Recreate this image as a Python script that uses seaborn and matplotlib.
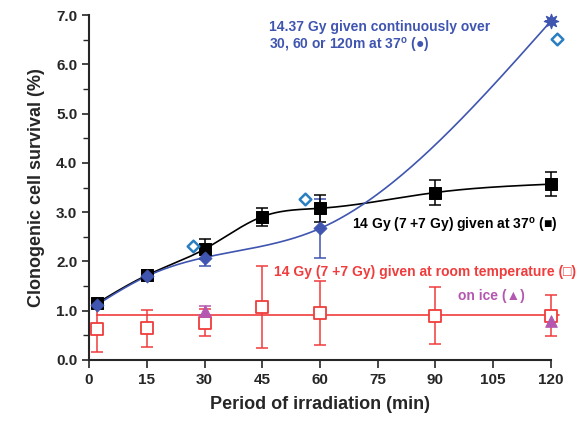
import numpy as np
import pandas as pd
import matplotlib
matplotlib.use("Agg")
import matplotlib.pyplot as plt
import seaborn as sns

# ---------------- data ----------------
t37 = [2, 15, 30, 45, 60, 90, 120]
surv37 = [1.15, 1.72, 2.25, 2.91, 3.08, 3.40, 3.57]
err37 = [0.07, 0.10, 0.20, 0.18, 0.27, 0.26, 0.25]

tcont = [2, 15, 30, 60, 120]
survcont = [1.12, 1.70, 2.08, 2.67, 6.88]
errcont = [0.05, 0.05, 0.18, 0.60, 0.0]

topen = [27, 56, 121.5]
survopen = [2.31, 3.26, 6.52]

troom = [2, 15, 30, 45, 60, 90, 120]
survroom = [0.62, 0.64, 0.76, 1.08, 0.95, 0.90, 0.90]
errroom = [0.45, 0.37, 0.27, 0.83, 0.65, 0.58, 0.41]
room_mean = 0.915

tice = [30, 120]
survice = [1.00, 0.79]
errice = [0.09, 0.0]

xticks = [0, 15, 30, 45, 60, 75, 90, 105, 120]
yticks = [0, 1, 2, 3, 4, 5, 6, 7]

BLUE = "#3f55b0"
LBLUE = "#2a7fc0"
RED = "#f03c3c"
PURPLE = "#b457b0"


def natural_spline(x, y, n=300):
    x = np.asarray(x, float)
    y = np.asarray(y, float)
    k = len(x)
    h = np.diff(x)
    A = np.zeros((k, k))
    b = np.zeros(k)
    A[0, 0] = 1
    A[-1, -1] = 1
    for i in range(1, k - 1):
        A[i, i - 1] = h[i - 1]
        A[i, i] = 2 * (h[i - 1] + h[i])
        A[i, i + 1] = h[i]
        b[i] = 3 * ((y[i + 1] - y[i]) / h[i] - (y[i] - y[i - 1]) / h[i - 1])
    c = np.linalg.solve(A, b)
    bb = np.zeros(k - 1)
    d = np.zeros(k - 1)
    for i in range(k - 1):
        bb[i] = (y[i + 1] - y[i]) / h[i] - h[i] * (2 * c[i] + c[i + 1]) / 3
        d[i] = (c[i + 1] - c[i]) / (3 * h[i])
    xs = np.linspace(x[0], x[-1], n)
    idx = np.clip(np.searchsorted(x, xs) - 1, 0, k - 2)
    dx = xs - x[idx]
    ys = y[idx] + bb[idx] * dx + c[idx] * dx ** 2 + d[idx] * dx ** 3
    return xs, ys


sns.set_style("ticks")
plt.rcParams["font.family"] = ["Liberation Sans", "DejaVu Sans"]
plt.rcParams["font.weight"] = "bold"
plt.rcParams["mathtext.fontset"] = "custom"
plt.rcParams["mathtext.rm"] = "Liberation Sans:bold"

fig = plt.figure(figsize=(5.86, 4.23), dpi=100)
ax = fig.add_axes([0.152, 0.149, 0.788, 0.815])

# smooth lines
xs, ys = natural_spline(t37, surv37)
sns.lineplot(x=xs, y=ys, ax=ax, color="black", lw=1.2, sort=False)
xs, ys = natural_spline(tcont, survcont)
sns.lineplot(x=xs, y=ys, ax=ax, color=BLUE, lw=1.2, sort=False)
sns.lineplot(x=[2, 122], y=[room_mean, room_mean], ax=ax, color=RED, lw=1.2)
for ln in ax.lines:
    ln.set_clip_on(False)

# error bars
ax.errorbar(troom, survroom, yerr=errroom, fmt="none", ecolor=RED, elinewidth=1.1,
            capsize=4.5, capthick=1.1, zorder=3, clip_on=False)
ax.errorbar(tice, survice, yerr=errice, fmt="none", ecolor=PURPLE, elinewidth=1.1,
            capsize=4.5, capthick=1.1, zorder=3, clip_on=False)
ax.errorbar(tcont, survcont, yerr=errcont, fmt="none", ecolor=BLUE, elinewidth=1.1,
            capsize=4.5, capthick=1.1, zorder=4, clip_on=False)
ax.errorbar(t37, surv37, yerr=err37, fmt="none", ecolor="black", elinewidth=1.1,
            capsize=4.5, capthick=1.1, zorder=5, clip_on=False)

# markers
sns.scatterplot(x=troom, y=survroom, ax=ax, marker="s", s=80, facecolor="white",
                edgecolor=RED, linewidth=1.3, zorder=6, clip_on=False)
sns.scatterplot(x=tice, y=survice, ax=ax, marker="^", s=70, color=PURPLE,
                edgecolor=PURPLE, zorder=7, clip_on=False)
sns.scatterplot(x=t37, y=surv37, ax=ax, marker="s", s=75, color="black",
                edgecolor="black", zorder=8, clip_on=False)
sns.scatterplot(x=tcont[:-1], y=survcont[:-1], ax=ax, marker="D", s=45, color=BLUE,
                edgecolor=BLUE, zorder=9, clip_on=False)
sns.scatterplot(x=tcont[-1:], y=survcont[-1:], ax=ax, marker=(8, 1, 0), s=110, color=BLUE,
                edgecolor=BLUE, linewidth=0.8, zorder=9, clip_on=False)
sns.scatterplot(x=topen, y=survopen, ax=ax, marker="D", s=35, facecolor="white",
                edgecolor=LBLUE, linewidth=1.8, zorder=9, clip_on=False)

ax.set_xlim(0, 120)
ax.set_ylim(0, 7)
ax.set_xticks(xticks)
ax.set_yticks(yticks)
ax.set_yticks(np.arange(0.5, 7, 1), minor=True)
ax.set_yticklabels([f"{v:.1f}" for v in yticks])
ax.tick_params(axis="both", which="major", length=5, width=1.2, labelsize=11, direction="out")
ax.tick_params(axis="x", which="major", length=6)
ax.tick_params(axis="y", which="minor", length=4, width=1.0)
for s in ("left", "bottom"):
    ax.spines[s].set_linewidth(1.5)
sns.despine(ax=ax)
ax.set_xlabel("Period of irradiation (min)", fontsize=13, fontweight="bold", labelpad=6)
ax.set_ylabel("Clonogenic cell survival (%)", fontsize=13, fontweight="bold", labelpad=8)

ax.text(0.39, 0.985, "14.37 Gy given continuously over\n30, 60 or 120m at 37$^{\\mathrm{o}}$ (\u25CF)",
        transform=ax.transAxes, color=BLUE, fontsize=10, fontweight="bold",
        va="top", ha="left", linespacing=1.1)
ax.text(0.57, 0.39, "14 Gy (7 +7 Gy) given at 37$^{\\mathrm{o}}$ (\u25A0)", transform=ax.transAxes,
        color="black", fontsize=10, fontweight="bold", va="center", ha="left")
ax.text(0.40, 0.255, "14 Gy (7 +7 Gy) given at room temperature (\u25A1)", transform=ax.transAxes,
        color=RED, fontsize=10, fontweight="bold", va="center", ha="left")
ax.text(0.80, 0.185, "on ice (\u25B2)", transform=ax.transAxes,
        color=PURPLE, fontsize=10, fontweight="bold", va="center", ha="left")

fig.savefig("out.png", dpi=100)
